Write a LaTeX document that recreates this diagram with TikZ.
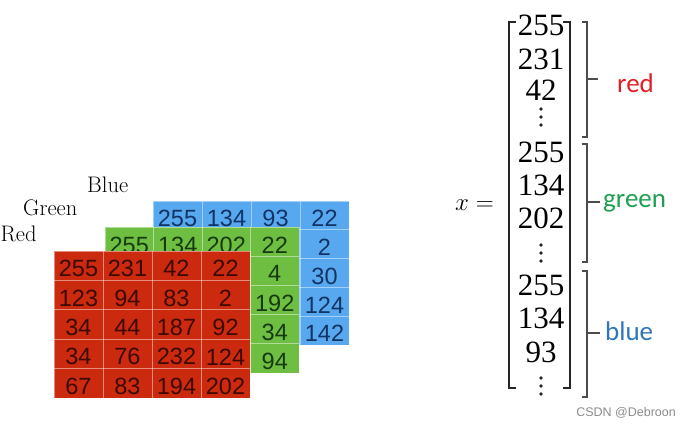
\documentclass[tikz,border=0pt]{standalone}
\usepackage{fontspec}
\newfontfamily\gridfont{Liberation Sans}
\newfontfamily\labfont{Carlito}
\newfontfamily\vecfont{Liberation Serif}
\definecolor{cred}{RGB}{204,42,14}
\definecolor{cgreen}{RGB}{110,190,66}
\definecolor{cblue}{RGB}{88,168,240}
\definecolor{tred}{RGB}{60,10,4}
\definecolor{tgreen}{RGB}{22,58,14}
\definecolor{tblue}{RGB}{18,52,100}
\definecolor{lred}{RGB}{226,30,36}
\definecolor{lgreen}{RGB}{30,160,80}
\definecolor{lblue}{RGB}{46,118,184}
\tikzset{
  gridline/.style={draw=white, draw opacity=0.45, line width=0.9pt},
  cellnum/.style={inner sep=0pt, font=\gridfont\fontsize{23.5}{26}\selectfont},
  layername/.style={inner sep=0pt, anchor=base west, font=\fontsize{22.5}{26}\selectfont},
  vecnum/.style={inner sep=0pt, anchor=base, font=\vecfont\fontsize{31}{36}\selectfont},
  bigbracket/.style={line width=2.6pt, black!85},
  groupbrace/.style={line width=1.3pt, black!70},
  grouplabel/.style={inner sep=0pt, anchor=base west, font=\labfont\fontsize{27}{32}\selectfont},
  vdot/.style={fill=black!85}
}
\begin{document}
\begin{tikzpicture}[x=1pt,y=-1pt]
\useasboundingbox (0,0) rectangle (692,428);
% ---------- blue layer ----------
\fill[cblue] (153,201) rectangle (349,345);
\foreach \i in {1,2,3} \draw[gridline] ({153+49*\i},201) -- ({153+49*\i},345);
\foreach \j in {1,...,4} \draw[gridline] (153,{201+28.8*\j}) -- (349,{201+28.8*\j});
\draw[gridline] (153,201) rectangle (349,345);
\foreach \v [count=\c] in {255,134,93,22}
  \node[cellnum, text=tblue] (b1\c) at ({153+49*(\c-0.5)},{201+14.4+3}) {\v};
\foreach \v [count=\r from 2] in {2,30,124,142}
  \node[cellnum, text=tblue] (b\r4) at (324.5,{201+28.8*(\r-0.5)+3}) {\v};
% ---------- green layer ----------
\fill[cgreen] (105,227) rectangle (299,373);
\foreach \i in {1,2,3} \draw[gridline] ({105+48.5*\i},227) -- ({105+48.5*\i},373);
\foreach \j in {1,...,4} \draw[gridline] (105,{227+29.2*\j}) -- (299,{227+29.2*\j});
\draw[gridline] (105,227) rectangle (299,373);
\foreach \v [count=\c] in {255,134,202,22}
  \node[cellnum, text=tgreen] (g1\c) at ({105+48.5*(\c-0.5)},{227+14.6+4}) {\v};
\foreach \v [count=\r from 2] in {4,192,34,94}
  \node[cellnum, text=tgreen] (g\r4) at (274.75,{227+29.2*(\r-0.5)+3}) {\v};
% ---------- red layer ----------
\fill[cred] (54,251) rectangle (250,398);
\foreach \i in {1,2,3} \draw[gridline] ({54+49*\i},251) -- ({54+49*\i},398);
\foreach \j in {1,...,4} \draw[gridline] (54,{251+29.4*\j}) -- (250,{251+29.4*\j});
\draw[gridline] (54,251) rectangle (250,398);
\foreach \row [count=\r] in {{255,231,42,22},{123,94,83,2},{34,44,187,92},{34,76,232,124},{67,83,194,202}}
  \foreach \v [count=\c] in \row
    \node[cellnum, text=tred] (r\r\c) at ({54+49*(\c-0.5)},{251+29.4*(\r-0.5)+3}) {\v};
% ---------- layer names ----------
\node[layername] (nblue) at (87,192) {Blue};
\node[layername] (ngreen) at (23,215) {Green};
\node[layername] (nred) at (0.5,241) {Red};
% ---------- vector ----------
\node[inner sep=0pt, anchor=base east, font=\fontsize{30}{36}\selectfont] (xeq) at (494,210) {$x =$};
\draw[bigbracket] (516,22) -- (509,22) -- (509,388) -- (516,388);
\draw[bigbracket] (563,22) -- (570,22) -- (570,388) -- (563,388);
\node[vecnum] (v1) at (541,36) {255};
\node[vecnum] (v2) at (541,70) {231};
\node[vecnum] (v3) at (541,100) {42};
\node[vecnum] (v5) at (541,162) {255};
\node[vecnum] (v6) at (541,195) {134};
\node[vecnum] (v7) at (541,228) {202};
\node[vecnum] (v9) at (541,295) {255};
\node[vecnum] (v10) at (541,328) {134};
\node[vecnum] (v11) at (541,362) {93};
\foreach \y in {109,117,125, 245,253,261, 378,386,394}
  \fill[vdot] (541,\y) circle (1.9pt);
% ---------- group braces ----------
\draw[groupbrace] (582,22) -- (587,22) -- (587,137) -- (582,137);
\coordinate (tr) at (598,79);
\draw[groupbrace] (587,79) -- (tr);
\draw[groupbrace] (582,144) -- (587,144) -- (587,262) -- (582,262);
\coordinate (tg) at (600,202);
\draw[groupbrace] (587,202) -- (tg);
\draw[groupbrace] (582,271) -- (587,271) -- (587,397) -- (582,397);
\coordinate (tb) at (600,333);
\draw[groupbrace] (587,333) -- (tb);
\node[grouplabel, text=lred] (lred) at (617,92) {red};
\node[grouplabel, text=lgreen] (lgreen) at (603,207) {green};
\node[grouplabel, text=lblue] (lblue) at (605,340) {blue};
% ---------- watermark ----------
\node[inner sep=0pt, anchor=east, text=black!45, font=\gridfont\fontsize{12.5}{14}\selectfont] (wm) at (676,413) {CSDN @Debroon};
\end{tikzpicture}
\end{document}
